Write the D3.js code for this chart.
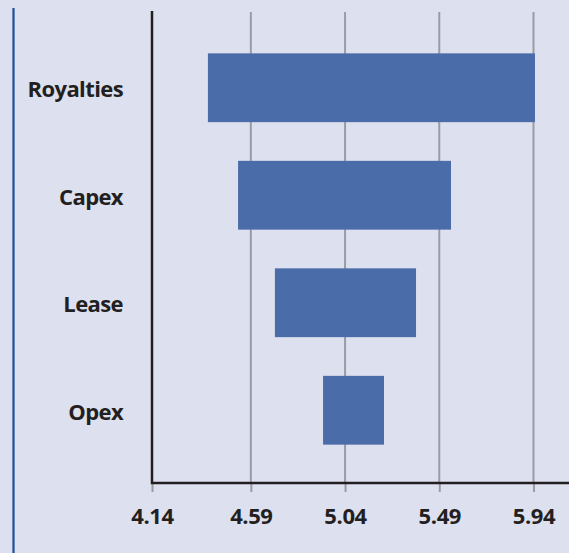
<!DOCTYPE html>
<html>
<head>
<meta charset="utf-8">
<script src="https://cdn.jsdelivr.net/npm/d3@7"></script>
<style>
html,body{margin:0;padding:0;background:#dde0ef;}
svg{display:block;}
</style>
</head>
<body>
<svg id="chart" width="569" height="553"></svg>
<script>
const categories = ["Royalties", "Capex", "Lease", "Opex"];
const lowValues = [4.385, 4.529, 4.705, 4.935];
const highValues = [5.947, 5.546, 5.379, 5.226];
const tickValues = [4.118, 4.59, 5.04, 5.49, 5.94];
const tickLabels = ["4.14", "4.59", "5.04", "5.49", "5.94"];

const svg = d3.select("#chart");
const W = 569, H = 553;
svg.append("rect").attr("width", W).attr("height", H).attr("fill", "#dde0ef");

// left blue rule
svg.append("line").attr("x1", 13.5).attr("x2", 13.5).attr("y1", 8).attr("y2", H)
  .attr("stroke", "#1f4f9c").attr("stroke-width", 2.2);

const x = d3.scaleLinear().domain([4.118, 5.94]).range([152, 533.5]);
const y = d3.scaleBand().domain(categories).range([34, 464]).paddingInner(0.36).paddingOuter(0.18);

const axisY = 483;
const topY = 11;
const fontFam = "'Open Sans', sans-serif";

// gridlines
svg.append("g").selectAll("line").data(tickValues.slice(1)).join("line")
  .attr("x1", d => x(d)).attr("x2", d => x(d))
  .attr("y1", topY + 1).attr("y2", axisY)
  .attr("stroke", "#9a9ca4").attr("stroke-width", 2);

// bars
svg.append("g").selectAll("rect").data(categories).join("rect")
  .attr("x", (d, i) => x(lowValues[i]))
  .attr("width", (d, i) => x(highValues[i]) - x(lowValues[i]))
  .attr("y", d => y(d))
  .attr("height", y.bandwidth())
  .attr("fill", "#4a6ca8");

// x axis
const xAxis = d3.axisBottom(x).tickValues(tickValues).tickFormat((d, i) => tickLabels[i])
  .tickSize(9).tickSizeOuter(0).tickPadding(16);
const gx = svg.append("g").attr("transform", `translate(0,${axisY})`).call(xAxis);
gx.select(".domain").remove();
gx.selectAll(".tick line").attr("stroke", "#9a9ca4").attr("stroke-width", 2);
gx.selectAll(".tick text").attr("fill", "#231f20")
  .style("font-family", fontFam).style("font-size", "22px").style("font-weight", "bold")
  .style("letter-spacing", "-0.4px");
svg.append("line").attr("x1", 151).attr("x2", W).attr("y1", axisY).attr("y2", axisY)
  .attr("stroke", "#231f20").attr("stroke-width", 2.5);

// y axis
const yAxis = d3.axisLeft(y).tickSize(0).tickPadding(29);
const gy = svg.append("g").attr("transform", "translate(152,0)").call(yAxis);
gy.select(".domain").remove();
gy.selectAll(".tick text").attr("fill", "#231f20").attr("dy", "0.42em")
  .style("font-family", fontFam).style("font-size", "22px").style("font-weight", "bold")
  .style("letter-spacing", "-0.6px");
svg.append("line").attr("x1", 152).attr("x2", 152).attr("y1", topY).attr("y2", axisY + 1)
  .attr("stroke", "#231f20").attr("stroke-width", 2.5);
</script>
</body>
</html>
